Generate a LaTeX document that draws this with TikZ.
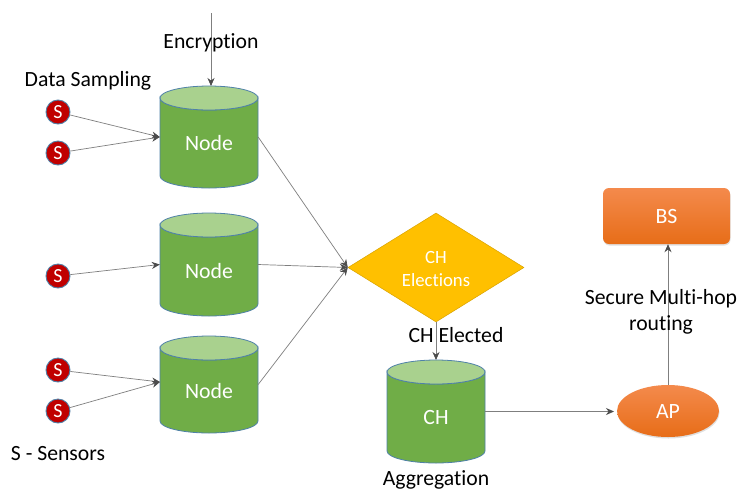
\documentclass[tikz,border=0pt]{standalone}
\usepackage{fontspec}
\setmainfont[Ligatures=NoCommon]{Carlito}
\usetikzlibrary{shapes.geometric,arrows.meta,shadows,calc}
\definecolor{cgreen}{HTML}{70AD47}
\definecolor{ctop}{HTML}{A9D18E}
\definecolor{cedge}{HTML}{4F81A8}
\definecolor{cgold}{HTML}{FFC000}
\definecolor{cred}{HTML}{C00000}
\definecolor{linec}{HTML}{7F7F7F}
\definecolor{otop}{HTML}{F48A4C}
\definecolor{obot}{HTML}{E76D18}
\tikzset{
  x=1pt,y=-1pt,
  cylbody/.style={fill=cgreen,draw=cedge,line width=0.8pt},
  cyltop/.style={fill=ctop,draw=cedge,line width=0.8pt},
  cyltext/.style={rectangle,minimum width=98pt,inner sep=0pt,text=white,font=\fontsize{21.8}{22}\selectfont},
  sensor/.style={circle,draw=cedge,line width=0.9pt,fill=cred,text=white,minimum size=24pt,inner sep=0pt,font=\fontsize{20}{20}\selectfont},
  lbl/.style={text=black,font=\fontsize{21.7}{26}\selectfont,align=center,inner sep=0pt},
  conn/.style={draw=linec,line width=0.7pt,-{Stealth[length=8pt,width=7pt,color=black!70]}},
  orangefill/.style={top color=otop,bottom color=obot,text=white,font=\fontsize{21.8}{22}\selectfont,drop shadow={shadow xshift=0.5pt,shadow yshift=-1.5pt,opacity=0.25}},
}
% name, centre x, top y, bottom y, text
\newcommand{\cylshape}[5]{%
  \draw[cylbody] (#2-49,#3+12) arc[x radius=49pt,y radius=12pt,start angle=180,end angle=360]
     -- (#2+49,#4-12) arc[x radius=49pt,y radius=12pt,start angle=0,end angle=-180] -- cycle;
  \draw[cyltop] (#2,#3+12) ellipse[x radius=49pt,y radius=12pt];
  \node[cyltext,minimum height={#4-#3}] (#1) at (#2,{(#3+#4)/2}) {};
  \node[cyltext] (#1t) at (#2,{(#3+#4)/2+6}) {#5};
}
\begin{document}
\begin{tikzpicture}
\useasboundingbox (0,0) rectangle (739,491);
\fill[white] (0,0) rectangle (739,491);
% nodes
\cylshape{n1}{209}{86}{188}{Node}
\cylshape{n2}{209}{213}{316}{Node}
\cylshape{n3}{209}{336}{433}{Node}
\cylshape{ch}{436}{360}{463}{CH}
\node[diamond,aspect=1.615,fill=cgold,draw=cgold!85!black,line width=0.5pt,minimum width=176pt,minimum height=109pt,inner sep=0pt] (el) at (436,267.5) {};
\node[text=white,align=center,inner sep=0pt,font=\fontsize{18.7}{23}\selectfont] (elt) at (436,268.5) {CH\\Elections};
\node[rectangle,rounded corners=6pt,minimum width=127pt,minimum height=56pt,orangefill] (bs) at (666.5,216) {BS};
\node[ellipse,minimum width=102pt,minimum height=52pt,inner sep=0pt,orangefill] (ap) at (668,411) {AP};
\node[sensor] (s1) at (58,112) {S};
\node[sensor] (s2) at (58,153) {S};
\node[sensor] (s3) at (58,276) {S};
\node[sensor] (s4) at (58,370) {S};
\node[sensor] (s5) at (58,411) {S};
\coordinate (enc) at (211,13);
\coordinate (n1top) at (211,86);
\coordinate (chtop) at (436,360);
\coordinate (n3in) at (160,382);
\coordinate (apin) at (614,411.5);
% connectors
\draw[conn] (enc) -- (n1top);
\draw[conn] (s1) -- (n1.west);
\draw[conn] (s2) -- (n1.west);
\draw[conn] (s3) -- (n2.west);
\draw[conn] (s4) -- (n3in);
\draw[conn] (s5) -- (n3in);
\draw[conn] (n1.east) -- (el.west);
\draw[conn] (n2.east) -- (el.west);
\draw[conn] (n3.east) -- (el.west);
\draw[conn] (el.south) -- (chtop);
\draw[conn] (ch.east) -- (apin);
\draw[conn] (ap.north) -- (bs.south -| ap.north);
% labels
\node[lbl] (t1) at (211,43) {Encryption};
\node[lbl] (t2) at (88,81) {Data Sampling};
\node[lbl] (t3) at (58,454) {S - Sensors};
\node[lbl] (t4) at (456,335) {CH Elected};
\node[lbl] (t5) at (436,479.5) {Aggregation};
\node[lbl] (t6) at (661,312) {Secure Multi-hop\\routing};
\end{tikzpicture}
\end{document}
